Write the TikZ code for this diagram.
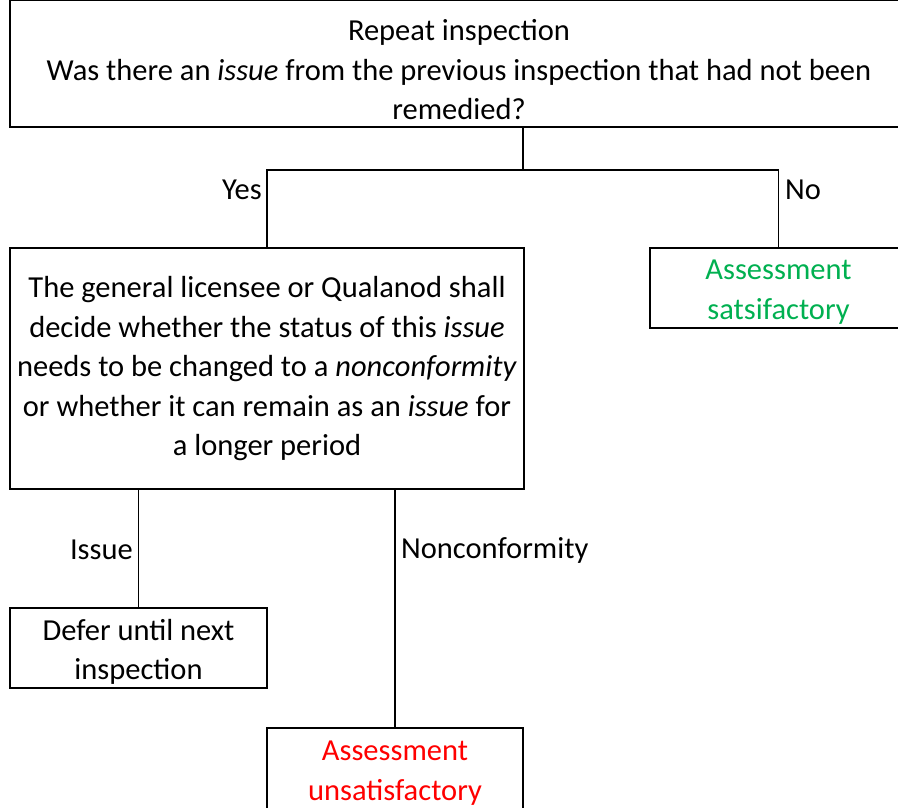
\documentclass[tikz,border=0pt]{standalone}
\usepackage{fontspec}
\setmainfont{Carlito}
\definecolor{okgreen}{RGB}{0,176,80}
\definecolor{badred}{RGB}{255,0,0}
\begin{document}
\begin{tikzpicture}
      [%%%%%%%%%%%%%%%%%%%%%%%%%%%%%%
      x=1pt,y=-1pt,
      every node/.style={font=\fontsize{30.5}{39.5}\selectfont},
      box/.style={rectangle,draw=black,line width=1.8pt,inner sep=0pt},
      txt/.style={inner sep=0pt,align=center},
      lbl/.style={inner sep=0pt},
      link/.style={draw=black,line width=1.8pt},
      ]%%%%%%%%%%%%%%%%%%%%%%%%%%%%%%
      \useasboundingbox (0,0) rectangle (898,808);

      \node[box,minimum width=898pt,minimum height=127pt,
        label={[txt,yshift=-6.5pt]center:{Repeat inspection\\Was there an \textit{issue} from the previous inspection that had not been\\remedied?}}]
        (repeat) at (459,63.5) {};
      \node[box,minimum width=514pt,minimum height=241pt,
        label={[txt,yshift=-0.5pt]center:{The general licensee or Qualanod shall\\decide whether the status of this \textit{issue}\\needs to be changed to a \textit{nonconformity}\\or whether it can remain as an \textit{issue} for\\a longer period}}]
        (decide) at (267,368.5) {};
      \node[box,minimum width=257pt,minimum height=80pt,
        label={[txt,yshift=-4pt,text=okgreen]center:{Assessment\\satsifactory}}]
        (ok) at (778.5,288) {};
      \node[box,minimum width=257pt,minimum height=80pt,
        label={[txt,yshift=-4pt]center:{Defer until next\\inspection}}]
        (defer) at (138.5,648) {};
      \node[box,minimum width=256pt,minimum height=84pt,
        label={[txt,yshift=-3pt,text=badred]center:{Assessment\\unsatisfactory}}]
        (bad) at (395,770) {};

      \coordinate (split) at (523,170);
      \draw[link] (repeat.south -| split) -- (split);
      \draw[link] (decide.north) |- (split) -| (ok.north);
      \draw[link] (decide.south -| defer.north) -- (defer.north);
      \draw[link] (decide.south -| bad.north) -- (bad.north);

      \node[lbl,anchor=east] (yes) at (262,190) {Yes};
      \node[lbl,anchor=west] (no) at (785,190) {No};
      \node[lbl,anchor=east] (issue) at (133,550) {Issue};
      \node[lbl,anchor=west] (nonconf) at (401,550) {Nonconformity};
\end{tikzpicture}
\end{document}
